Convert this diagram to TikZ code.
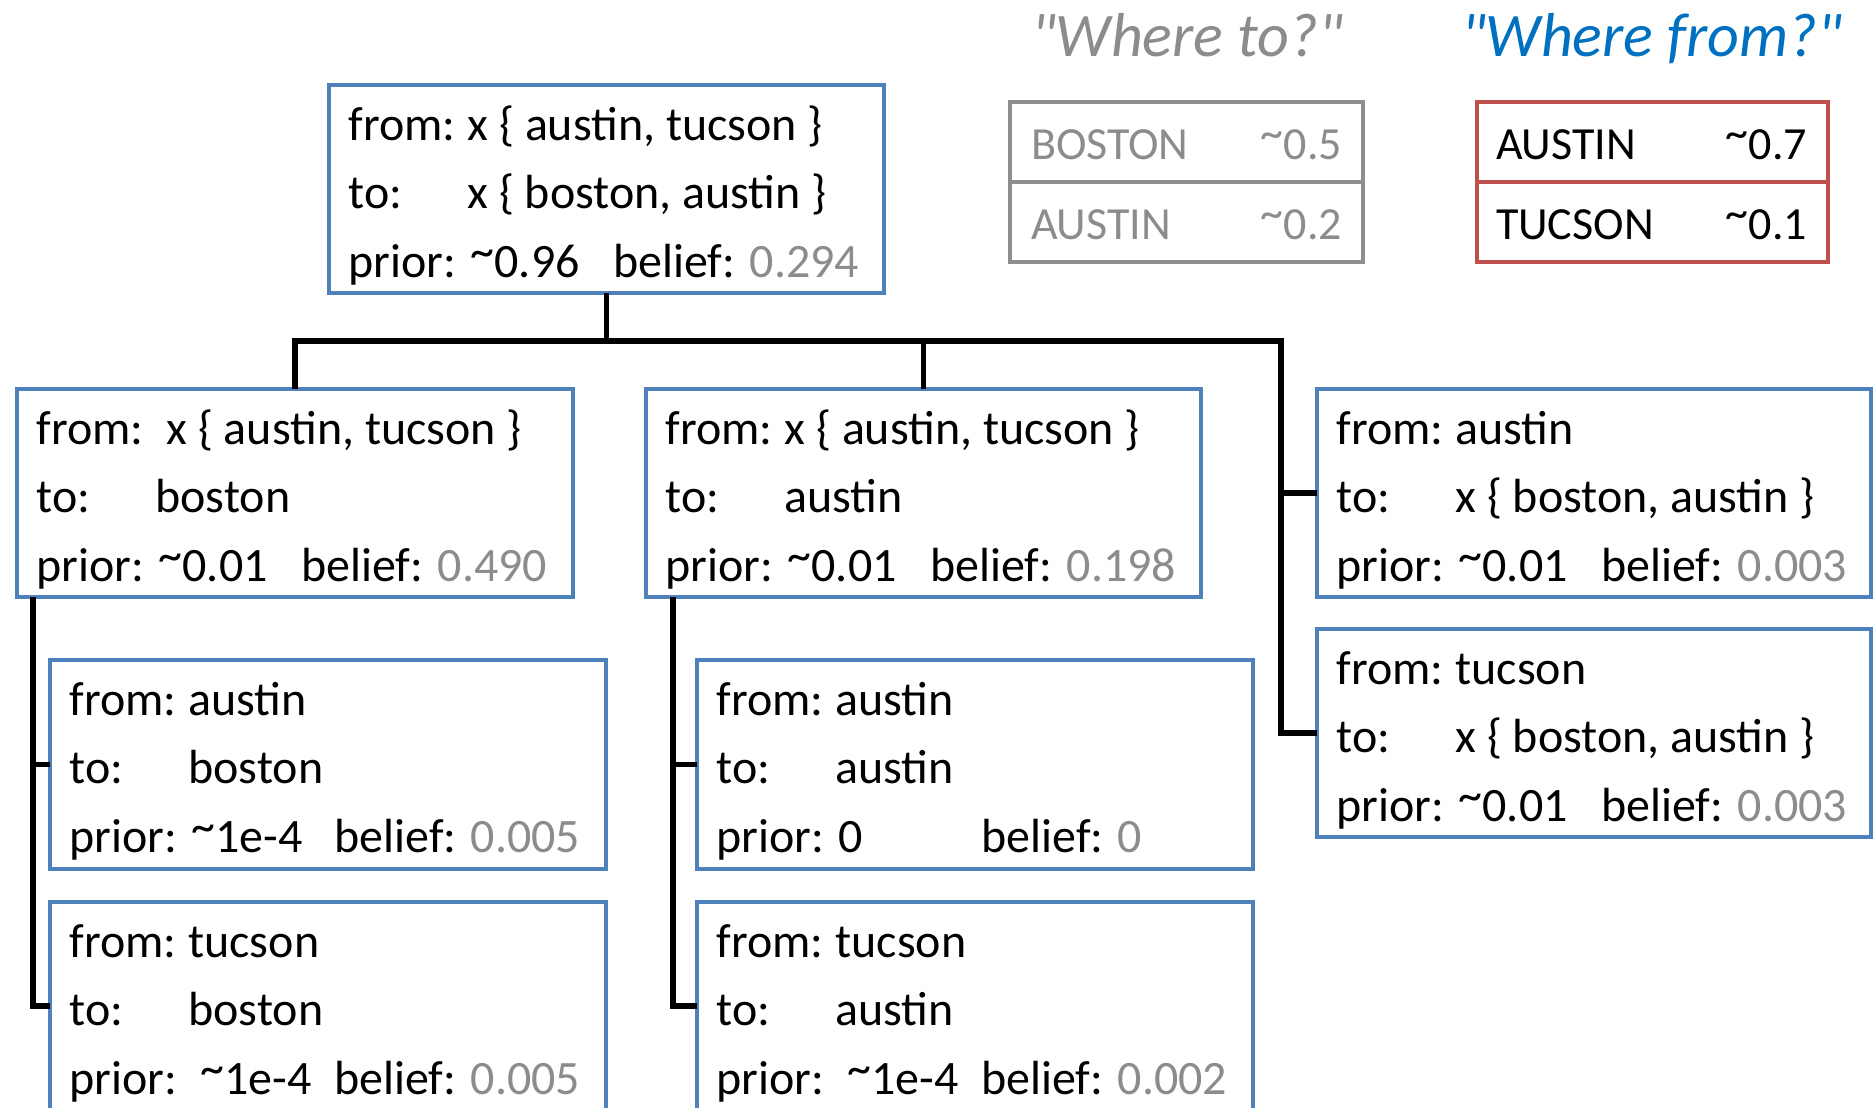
\documentclass[tikz,border=0pt]{standalone}
\usepackage{fontspec}
\setmainfont{Carlito}
\usetikzlibrary{fit,calc}

\definecolor{cardblue}{HTML}{4F81BD}
\definecolor{softgray}{HTML}{8C8C8C}
\definecolor{framegray}{HTML}{8E8E8E}
\definecolor{framered}{HTML}{C0504D}
\definecolor{headblue}{HTML}{0070C0}

% three text lines of a hypothesis card
\newcommand\cardlines[3]{\vtop{\baselineskip=39.15pt\lineskiplimit=-100pt
  \hbox{#1}\hbox{#2}\hbox{#3}}}
\newcommand\tabto[2]{\makebox[#1][l]{#2}}
\newcommand\bel[1]{\textcolor{softgray}{#1}}
% raised "approximately" tilde
\newcommand\approxsign{\raisebox{0.22em}{\textasciitilde}}

\begin{document}
\begin{tikzpicture}[x=0.02cm,y=-0.02cm,
  card/.style={draw=cardblue,line width=2.7pt,inner sep=0pt,outer sep=0pt,fill=white},
  cardtext/.style={anchor=base west,inner sep=0pt,outer sep=0pt,
    font=\fontsize{27.3pt}{39.15pt}\selectfont},
  wire/.style={line width=3.1pt,black},
  tablebox/.style={line width=2.7pt,inner sep=0pt,outer sep=0pt},
  celltext/.style={inner sep=0pt,outer sep=0pt,font=\fontsize{26.2pt}{30pt}\selectfont},
  headtext/.style={inner sep=0pt,outer sep=0pt,anchor=base west,
    font=\fontsize{35.3pt}{40pt}\selectfont\itshape\addfontfeatures{Ligatures=TeXOff}}]

\useasboundingbox (0,0) rectangle (1875,1107);
\clip (0,0) rectangle (1875,1107);

% ---- hypothesis cards ----
\node[card,fit={(329,85) (884,293)}] (root) {};
\node[card,fit={(17,389) (573,597)}] (a) {};
\node[card,fit={(646,389) (1201,597)}] (b) {};
\node[card,fit={(1317,389) (1871,597)}] (ra) {};
\node[card,fit={(1317,629) (1871,837)}] (rb) {};
\node[card,fit={(50,660) (606,869)}] (a1) {};
\node[card,fit={(50,902) (606,1110)}] (a2) {};
\node[card,fit={(697,660) (1253,869)}] (b1) {};
\node[card,fit={(697,902) (1253,1110)}] (b2) {};

\node[cardtext] (root-t) at ($(root.north west)+(19.5,55)$) {\cardlines
  {\tabto{2.38cm}{from:}x \{ austin, tucson \}}
  {\tabto{2.38cm}{to:}x \{ boston, austin \}}
  {\tabto{5.3cm}{prior: \approxsign0.96}belief: \bel{0.294}}};

\node[cardtext] (a-t) at ($(a.north west)+(19.5,55)$) {\cardlines
  {\tabto{2.6cm}{from:}x \{ austin, tucson \}}
  {\tabto{2.38cm}{to:}boston}
  {\tabto{5.3cm}{prior: \approxsign0.01}belief: \bel{0.490}}};

\node[cardtext] (b-t) at ($(b.north west)+(19.5,55)$) {\cardlines
  {\tabto{2.38cm}{from:}x \{ austin, tucson \}}
  {\tabto{2.38cm}{to:}austin}
  {\tabto{5.3cm}{prior: \approxsign0.01}belief: \bel{0.198}}};

\node[cardtext] (ra-t) at ($(ra.north west)+(19.5,55)$) {\cardlines
  {\tabto{2.38cm}{from:}austin}
  {\tabto{2.38cm}{to:}x \{ boston, austin \}}
  {\tabto{5.3cm}{prior: \approxsign0.01}belief: \bel{0.003}}};

\node[cardtext] (rb-t) at ($(rb.north west)+(19.5,55)$) {\cardlines
  {\tabto{2.38cm}{from:}tucson}
  {\tabto{2.38cm}{to:}x \{ boston, austin \}}
  {\tabto{5.3cm}{prior: \approxsign0.01}belief: \bel{0.003}}};

\node[cardtext] (a1-t) at ($(a1.north west)+(19.5,55)$) {\cardlines
  {\tabto{2.38cm}{from:}austin}
  {\tabto{2.38cm}{to:}boston}
  {\tabto{5.3cm}{prior: \approxsign1e-4}belief: \bel{0.005}}};

\node[cardtext] (a2-t) at ($(a2.north west)+(19.5,55)$) {\cardlines
  {\tabto{2.38cm}{from:}tucson}
  {\tabto{2.38cm}{to:}boston}
  {\tabto{5.3cm}{\tabto{2.62cm}{prior:}\approxsign1e-4}belief: \bel{0.005}}};

\node[cardtext] (b1-t) at ($(b1.north west)+(19.5,55)$) {\cardlines
  {\tabto{2.38cm}{from:}austin}
  {\tabto{2.38cm}{to:}austin}
  {\tabto{5.3cm}{prior: 0}belief: \bel{0}}};

\node[cardtext] (b2-t) at ($(b2.north west)+(19.5,55)$) {\cardlines
  {\tabto{2.38cm}{from:}tucson}
  {\tabto{2.38cm}{to:}austin}
  {\tabto{5.3cm}{\tabto{2.62cm}{prior:}\approxsign1e-4}belief: \bel{0.002}}};

% ---- tree connectors ----
\coordinate (spineR) at (1281,341);
\coordinate (spineA) at ($(a.south west)+(16,0)$);
\coordinate (spineB) at ($(b.south west)+(27,0)$);

\draw[wire] (root.south) -- (root.south |- spineR);
\draw[wire] (a.north) |- (spineR) |- (rb.west);
\draw[wire] (b.north) -- (b.north |- spineR);
\draw[wire] (spineR |- ra.west) -- (ra.west);

\draw[wire] (spineA) |- (a2.west);
\draw[wire] (spineA |- a1.west) -- (a1.west);
\draw[wire] (spineB) |- (b2.west);
\draw[wire] (spineB |- b1.west) -- (b1.west);

% ---- destination / origin tables ----
\node[headtext,text=softgray] (whereto) at (1031,56) {"Where to?"};
\node[headtext,text=headblue] (wherefrom) at (1461,56) {"Where from?"};

\node[tablebox,draw=framegray,fit={(1010,102) (1363,262)}] (to) {};
\draw[framegray,line width=2.7pt] ($(to.north west)+(0,80)$) -- ($(to.north east)+(0,80)$);
\node[celltext,text=softgray,anchor=base west] (to-1) at (1031,159) {BOSTON};
\node[celltext,text=softgray,anchor=base east] (to-1p) at (1342,159) {\approxsign0.5};
\node[celltext,text=softgray,anchor=base west] (to-2) at (1031,239) {AUSTIN};
\node[celltext,text=softgray,anchor=base east] (to-2p) at (1342,239) {\approxsign0.2};

\node[tablebox,draw=framered,fit={(1477,102) (1828,262)}] (from) {};
\draw[framered,line width=2.7pt] ($(from.north west)+(0,80)$) -- ($(from.north east)+(0,80)$);
\node[celltext,anchor=base west] (from-1) at (1496,159) {AUSTIN};
\node[celltext,anchor=base east] (from-1p) at (1807,159) {\approxsign0.7};
\node[celltext,anchor=base west] (from-2) at (1496,239) {TUCSON};
\node[celltext,anchor=base east] (from-2p) at (1807,239) {\approxsign0.1};

\end{tikzpicture}
\end{document}
